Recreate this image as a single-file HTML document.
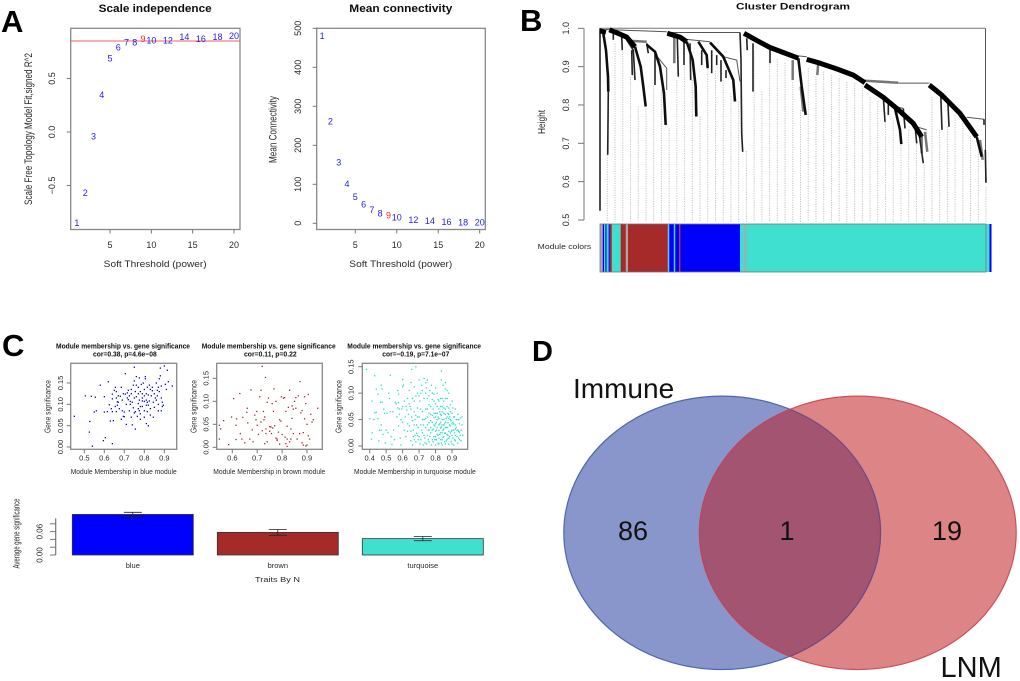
<!DOCTYPE html>
<html lang="en">
<head>
<meta charset="utf-8">
<title>WGCNA module analysis and Venn diagram</title>
<style>
html,body{margin:0;padding:0;background:#fff;width:1020px;height:681px;overflow:hidden}
svg{display:block;font-family:"Liberation Sans",Arial,sans-serif}
.t{fill:#2a2a2a}
.tb{fill:#111;font-weight:bold}
.letter{fill:#000;font-weight:bold}
</style>
</head>
<body>
<svg id="fig" xmlns="http://www.w3.org/2000/svg" width="1020" height="681" viewBox="0 0 1020 681">
<defs>
<filter id="soft" x="-5%" y="-5%" width="110%" height="110%"><feGaussianBlur stdDeviation="0.35"/></filter>
<clipPath id="blue-clip"><ellipse cx="722" cy="532.8" rx="158.7" ry="137.2"/></clipPath>
</defs>
<rect width="1020" height="681" fill="#fff"/>

<g id="panelA" filter="url(#soft)">
<text class="tb" x="98.7" y="12" font-size="11" textLength="113" lengthAdjust="spacingAndGlyphs">Scale independence</text>
<text class="tb" x="349.3" y="12" font-size="11" textLength="103" lengthAdjust="spacingAndGlyphs">Mean connectivity</text>
<text class="t" x="103.7" y="267" font-size="9.5" textLength="103" lengthAdjust="spacingAndGlyphs">Soft Threshold (power)</text>
<text class="t" x="349.3" y="267" font-size="9.5" textLength="103" lengthAdjust="spacingAndGlyphs">Soft Threshold (power)</text>
<text class="t" transform="translate(32,129) rotate(-90)" text-anchor="middle" font-size="11" textLength="152" lengthAdjust="spacingAndGlyphs">Scale Free Topology Model Fit,signed R^2</text>
<text class="t" transform="translate(276.5,129.5) rotate(-90)" text-anchor="middle" font-size="11" textLength="67" lengthAdjust="spacingAndGlyphs">Mean Connectivity</text>
</g>

<g id="panelB" filter="url(#soft)">
<text class="tb" x="736" y="9.5" font-size="9.5" textLength="114" lengthAdjust="spacingAndGlyphs">Cluster Dendrogram</text>
<text class="t" transform="translate(545,122) rotate(-90)" text-anchor="middle" font-size="10" textLength="24" lengthAdjust="spacingAndGlyphs">Height</text>
<text class="t" x="537.7" y="249" font-size="7.5" textLength="53.5" lengthAdjust="spacingAndGlyphs">Module colors</text>
</g>

<g id="panelC" filter="url(#soft)">
<text class="tb" x="56" y="348.5" font-size="7.4" textLength="134" lengthAdjust="spacingAndGlyphs">Module membership vs. gene significance</text>
<text class="tb" x="93" y="356.5" font-size="7.4" textLength="63.7" lengthAdjust="spacingAndGlyphs">cor=0.38, p=4.6e−08</text>
<text class="tb" x="201.7" y="348.5" font-size="7.4" textLength="134" lengthAdjust="spacingAndGlyphs">Module membership vs. gene significance</text>
<text class="tb" x="244" y="356.5" font-size="7.4" textLength="52.7" lengthAdjust="spacingAndGlyphs">cor=0.11, p=0.22</text>
<text class="tb" x="347.3" y="348.5" font-size="7.4" textLength="133.7" lengthAdjust="spacingAndGlyphs">Module membership vs. gene significance</text>
<text class="tb" x="382.3" y="356.5" font-size="7.4" textLength="67" lengthAdjust="spacingAndGlyphs">cor=−0.19, p=7.1e−07</text>
<text class="t" x="70.7" y="474" font-size="7.6" textLength="106" lengthAdjust="spacingAndGlyphs">Module Membership in blue module</text>
<text class="t" x="213.3" y="474" font-size="7.6" textLength="112" lengthAdjust="spacingAndGlyphs">Module Membership in brown module</text>
<text class="t" x="354" y="474" font-size="7.6" textLength="121.7" lengthAdjust="spacingAndGlyphs">Module Membership in turquoise module</text>
<text class="t" transform="translate(50.5,406.5) rotate(-90)" text-anchor="middle" font-size="8" textLength="53" lengthAdjust="spacingAndGlyphs">Gene significance</text>
<text class="t" transform="translate(196.5,406.5) rotate(-90)" text-anchor="middle" font-size="8" textLength="53" lengthAdjust="spacingAndGlyphs">Gene significance</text>
<text class="t" transform="translate(341.5,406.5) rotate(-90)" text-anchor="middle" font-size="8" textLength="53" lengthAdjust="spacingAndGlyphs">Gene significance</text>
<text class="t" transform="translate(19.5,533.5) rotate(-90)" text-anchor="middle" font-size="9" textLength="70" lengthAdjust="spacingAndGlyphs">Average gene significance</text>
<text class="t" x="255" y="582" font-size="7.5" textLength="45" lengthAdjust="spacingAndGlyphs">Traits By N</text>
</g>

<g id="panelD">
<ellipse cx="722" cy="532.8" rx="158.2" ry="136.7" fill="#8896cb" stroke="#4f67b1" stroke-width="1.2"/>
<ellipse cx="858" cy="532.8" rx="158.2" ry="136.7" fill="#dd8487" stroke="#cf4f58" stroke-width="1.2"/>
<ellipse cx="858" cy="532.8" rx="158.2" ry="136.7" fill="#a25470" clip-path="url(#blue-clip)"/>
<path d="M789.5 409 A158.2 136.7 0 0 1 789.5 656.6" fill="none" stroke="#6d4a85" stroke-width="1.2"/>
<path d="M790.5 409 A158.2 136.7 0 0 0 790.5 656.6" fill="none" stroke="#c14455" stroke-width="1.2"/>
<text x="573" y="398" font-size="28" fill="#111">Immune</text>
<text x="940.5" y="677" font-size="29" fill="#111">LNM</text>
<text x="633" y="540" font-size="27" fill="#111" text-anchor="middle">86</text>
<text x="787" y="540" font-size="27" fill="#111" text-anchor="middle">1</text>
<text x="947" y="540" font-size="27" fill="#111" text-anchor="middle">19</text>
</g>

<text class="letter" x="1" y="32" font-size="31">A</text>
<text class="letter" x="520" y="31" font-size="31">B</text>
<text class="letter" x="2" y="356" font-size="31">C</text>
<text class="letter" x="532" y="361" font-size="29">D</text>
</svg>

<script>
/* ---------- Panel A data ---------- */
const powers = [1,2,3,4,5,6,7,8,9,10,12,14,16,18,20];
const scaleFit = [-0.85,-0.567,-0.04,0.35,0.69,0.79,0.84,0.84,0.87,0.857,0.857,0.888,0.87,0.888,0.90];
const meanConnectivity = [481,262,157,101,68,49,35,26,20,16,9,7,4,3,2.5];
const selectedPower = 9;
const fitCutoff = 0.85;
const powerTicks = [5,10,15,20];
const scaleTicks = [0.5,0,-0.5];
const scaleTickLabels = ['0.5','0.0','−0.5'];
const connectivityTicks = [0,100,200,300,400,500];

/* ---------- Panel B data ---------- */
const heightTicks = [1.0,0.9,0.8,0.7,0.6,0.5];
const heightTickLabels = ['1.0','0.9','0.8','0.7','0.6','0.5'];
const guideHeights = [.67,.96,.94,.874,.796,.79,.85,.84,.74,.865,.90,.865,.77,.90,.89,.865,.83,.81,.68,.94,.835,.92,.92,.91,.86,.787,.896,.874,.887,.878,.87,.86,.857,.857,.82,.81,.756,.76,.695,.735,.70,.644,.82,.735,.743,.774,.752,.72,.71,.587];
const moduleNames = ['grey','blue','turquoise','blue','turquoise','blue','brown','turquoise','brown','grey','brown','turquoise','blue','turquoise','blue','brown','blue','turquoise','grey','turquoise','blue'];
const moduleSizes = [2.7,1.3,1.3,1.3,2,1.3,2,8.7,5.3,2,40,1.3,4.7,1.3,4,1.3,59.7,4.3,2,243,2];
const moduleColors = {grey:'#a9a9a9',blue:'#0000ff',turquoise:'#40e0d0',brown:'#a52a2a'};
/* dendrogram merges as [leaf, height], grouped by how many genes each branch gathers */
const trunkBranches = [
[[0,.993],[6,.99]],
[[9.3,.996],[18,.987],[26.7,.977],[35,.952]],
[[67.3,.987],[80,.977],[86.7,.965]],
[[144,.987],[157,.968],[170,.95],[183.3,.937],[198.3,.922]],
[[206.7,.919],[220,.909],[236.7,.894],[253.3,.878],[265,.858]],
[[265,.852],[283.3,.82],[296.7,.791],[313.3,.752],[321.7,.717]],
[[329.3,.852],[341.7,.826],[360,.778],[376.7,.717]]
];
const limbBranches = [
[[3.3,.987],[6,.943],[8,.874],[8.3,.835]],
[[35,.952],[40.7,.9],[43.3,.848],[45.7,.796]],
[[46.7,.957],[55,.939],[60,.9],[64,.83],[65.7,.748]],
[[86.7,.965],[92.7,.917],[95.7,.848],[96.3,.77]],
[[98.3,.965],[106.7,.93],[107.7,.896]],
[[110,.963],[123.3,.926],[133.3,.865],[135,.809]],
[[198.3,.922],[201.7,.848],[205.7,.774]],
[[295,.791],[300,.735],[301.3,.698]],
[[376.7,.717],[381.7,.665]]
];
const twigBranches = [
[[0,1],[0,.524]],[[8.3,.835],[7.7,.67]],[[26.7,.97],[33.3,.943],[35,.865]],[[21.7,.978],[22.3,.943]],[[31.7,.943],[32.3,.878]],[[13.3,.991],[13.3,.97]],
[[46.7,.961],[48.3,.935]],[[55,.935],[55,.852]],[[77.3,.974],[78.3,.874]],[[84,.965],[84,.904]],[[90,.961],[90.7,.865]],
[[101.7,.943],[101.7,.904]],[[111.7,.943],[111.7,.883]],[[116.7,.93],[116.7,.904]],[[121,.917],[121,.861]],[[126,.891],[126,.87]],
[[140,.989],[141,.917],[141.7,.726],[142.7,.678]],[[146.7,.974],[147.3,.943]],[[153,.961],[153,.835]],[[170,.952],[170,.909]],
[[283.3,.822],[285,.756]],[[288.3,.813],[288.3,.774]],[[303.3,.791],[305,.739]],[[315,.748],[316.7,.70]],[[318.3,.739],[323.3,.648]],
[[340.7,.83],[342,.735]],[[347.7,.817],[349,.743]],[[384,.763],[384,.748]],[[385.3,.683],[386,.597]]
];
const greyBranches = [
[[74.3,.978],[74.3,.909]],[[192.7,.917],[192.7,.865]],[[200.7,.848],[203.3,.783]],[[218.3,.913],[217.3,.878]],[[265,.863],[298.3,.858]],
[[321.7,.726],[321.7,.674]],[[325,.73],[327.3,.678]],[[380,.709],[382.7,.657]],[[26.7,.968],[46.7,.965]]
];
const linkBranches = [
[[6,.997],[66.7,.991]],[[57.3,.926],[66.7,.896],[66.7,.839]],[[67.3,.989],[140,.989]],[[86.7,.971],[110,.965]],[[123.3,.926],[136.7,.917],[140,.861]],
[[198.3,.928],[206.7,.926]],[[298.3,.857],[329.3,.857]],[[296.7,.795],[303.3,.791]],[[316.7,.743],[326.7,.735]],[[366.7,.768],[384,.763]],[[385.5,1],[385.5,.6]]
];

/* ---------- Panel C data ---------- */
const bluePoints = [[.45,.072],[.505,.12],[.527,.06],[.525,.035],[.535,.119],[.54,.002],[.55,.082],[.555,.117],[.56,.085],[.58,.145],[.595,.015],[.6,.082],[.6,.118],[.605,.022],[.615,.083],[.62,.153],[.625,.099],[.63,.061],[.635,.09],[.64,.008],[.64,.083],[.64,.113],[.64,.124],[.645,.062],[.65,.133],[.655,.14],[.655,.095],[.66,.13],[.66,.083],[.665,.098],[.665,.106],[.67,.105],[.675,.09],[.68,.119],[.685,.14],[.685,.065],[.69,.085],[.695,.072],[.695,.125],[.7,.071],[.7,.082],[.705,.124],[.705,.172],[.71,.053],[.71,.1],[.715,.127],[.715,.115],[.72,.111],[.72,.133],[.725,.085],[.73,.1],[.73,.107],[.735,.135],[.735,.07],[.74,.052],[.745,.092],[.75,.08],[.75,.115],[.75,.155],[.75,.187],[.755,.042],[.755,.083],[.755,.13],[.76,.145],[.76,.165],[.765,.072],[.77,.102],[.77,.125],[.77,.14],[.775,.085],[.775,.162],[.78,.065],[.78,.078],[.78,.13],[.785,.147],[.79,.095],[.79,.108],[.79,.125],[.795,.15],[.8,.07],[.8,.085],[.8,.107],[.8,.135],[.805,.165],[.805,.16],[.81,.055],[.81,.098],[.81,.11],[.815,.14],[.815,.083],[.82,.05],[.82,.098],[.82,.122],[.825,.108],[.83,.075],[.83,.09],[.83,.135],[.835,.12],[.84,.14],[.84,.132],[.845,.105],[.845,.07],[.85,.093],[.855,.115],[.86,.11],[.865,.12],[.87,.1],[.87,.14],[.875,.13],[.875,.16],[.88,.185],[.88,.167],[.885,.085],[.885,.143],[.885,.115],[.89,.095],[.895,.098],[.9,.19],[.905,.147],[.91,.135],[.915,.18],[.92,.153],[.94,.143],[.86,.15],[.865,.133],[.85,.125],[.825,.145],[.815,.105],[.775,.11],[.76,.118],[.745,.145],[.735,.125],[.74,.105],[.725,.12],[.69,.11],[.67,.12],[.66,.115],[.8,.12],[.79,.115],[.78,.095],[.77,.09],[.81,.125],[.87,.085],[.89,.105]];
const brownPoints = [[.548,.048],[.553,.04],[.548,.018],[.565,.058],[.585,.006],[.597,.066],[.605,.106],[.615,.017],[.615,.048],[.617,.062],[.632,.03],[.63,.117],[.638,.018],[.642,.065],[.65,.01],[.658,.076],[.66,.085],[.662,.053],[.67,.018],[.675,.125],[.68,.038],[.683,.012],[.69,.07],[.695,.06],[.698,.078],[.7,.048],[.705,.028],[.71,.11],[.715,.124],[.715,.055],[.72,.176],[.72,.036],[.725,.078],[.727,.06],[.73,.066],[.73,.008],[.733,.152],[.735,.04],[.735,.03],[.74,.012],[.74,.098],[.745,.107],[.75,.035],[.755,.044],[.757,.03],[.76,.095],[.762,.042],[.765,.078],[.767,.127],[.77,.047],[.775,.1],[.78,.018],[.78,.015],[.785,.033],[.79,.06],[.79,.007],[.795,.057],[.797,.11],[.805,.107],[.81,.108],[.812,.022],[.815,.008],[.815,.078],[.82,.002],[.82,.046],[.825,.087],[.83,.124],[.83,.012],[.835,.018],[.835,.04],[.84,.09],[.84,.063],[.845,.083],[.85,.1],[.855,.108],[.86,.018],[.855,.085],[.865,.112],[.87,.03],[.875,.075],[.88,.08],[.88,.01],[.885,.032],[.89,.062],[.895,.095],[.895,.003],[.9,.05],[.872,.143],[.91,.018],[.885,.005],[.9,.005],[.915,.072],[.92,.055],[.925,.06],[.905,.115],[.89,.11],[.943,.085],[.905,.025],[.845,.03],[.82,.018],[.8,.028],[.775,.02],[.75,.045]];
const turquoisePoints = [[.38,.145],[.43,.133],[.525,.134],[.6,.126],[.655,.145],[.68,.15],[.835,.142],[.47,.115],[.475,.108],[.44,.108],[.45,.098],[.415,.085],[.44,.064],[.43,.063],[.45,.052],[.4,.052],[.425,.05],[.41,.013],[.415,.025],[.455,.01],[.46,.03],[.465,.083],[.47,.04],[.47,.03],[.475,.083],[.48,.022],[.485,.07],[.49,.062],[.495,.006],[.5,.03],[.505,.062],[.51,.025],[.515,.1],[.52,.09],[.525,.065],[.53,.018],[.535,.003],[.54,.065],[.545,.03],[.55,.012],[.555,.083],[.56,.08],[.565,.055],[.57,.072],[.575,.038],[.575,.082],[.58,.06],[.585,.015],[.59,.002],[.595,.07],[.6,.045],[.6,.075],[.605,.115],[.61,.085],[.61,.03],[.57,.105],[.575,.098],[.6,.112],[.58,.07],[.59,.05],[.615,.055],[.62,.018],[.625,.068],[.63,.028],[.635,.06],[.64,.105],[.64,.038],[.645,.075],[.65,.12],[.65,.01],[.655,.055],[.66,.002],[.66,.048],[.665,.03],[.67,.112],[.67,.065],[.675,.02],[.68,.058],[.68,.008],[.685,.04],[.69,.072],[.695,.035],[.7,.125],[.7,.055],[.7,.018],[.705,.085],[.71,.04],[.715,.115],[.72,.065],[.72,.025],[.725,.002],[.73,.128],[.73,.09],[.73,.05],[.735,.015],[.74,.07],[.74,.035],[.745,.11],[.745,.004],[.75,.09],[.75,.055],[.75,.02],[.755,.03],[.76,.078],[.76,.044],[.76,.008],[.765,.105],[.77,.06],[.77,.025],[.775,.115],[.775,.002],[.78,.088],[.78,.045],[.78,.012],[.785,.07],[.785,.032],[.79,.098],[.79,.054],[.79,.018],[.795,.038],[.8,.11],[.8,.08],[.8,.062],[.8,.028],[.8,.002],[.805,.045],[.805,.012],[.81,.075],[.81,.035],[.815,.088],[.815,.055],[.815,.02],[.82,.03],[.82,.005],[.825,.065],[.825,.042],[.83,.09],[.83,.025],[.83,.012],[.835,.125],[.835,.058],[.835,.036],[.84,.075],[.84,.05],[.84,.002],[.845,.115],[.845,.03],[.85,.085],[.85,.018],[.85,.062],[.855,.042],[.855,.008],[.86,.108],[.86,.07],[.86,.025],[.865,.052],[.865,.035],[.87,.09],[.87,.013],[.875,.062],[.875,.044],[.88,.072],[.88,.028],[.88,.003],[.885,.055],[.885,.018],[.89,.078],[.89,.038],[.895,.048],[.895,.008],[.9,.062],[.9,.03],[.905,.072],[.905,.015],[.91,.042],[.91,.002],[.915,.055],[.915,.025],[.92,.07],[.92,.01],[.925,.035],[.93,.05],[.93,.018],[.935,.06],[.935,.005],[.94,.028],[.945,.042],[.945,.012],[.95,.053],[.955,.03],[.96,.055],[.965,.02],[.62,.075],[.63,.09],[.64,.08],[.65,.07],[.66,.09],[.67,.085],[.68,.095],[.69,.1],[.7,.095],[.71,.1],[.72,.105],[.74,.1],[.76,.095],[.78,.1],[.82,.085],[.84,.09],[.86,.09],[.74,.12],[.75,.125],[.72,.05],[.71,.07],[.69,.055],[.67,.04],[.65,.028],[.63,.042],[.74,.052],[.76,.062],[.78,.058],[.8,.042],[.82,.052],[.84,.025],[.86,.045],[.88,.052],[.9,.02],[.92,.04],[.94,.05],[.83,.06],[.85,.05],[.87,.035],[.89,.025],[.91,.03],[.81,.05],[.79,.04],[.77,.035],[.75,.04],[.73,.02],[.71,.012],[.69,.02],[.67,.012],[.83,.045],[.85,.032],[.87,.055],[.89,.065],[.93,.03],[.95,.02],[.96,.04],[.82,.015],[.84,.012],[.86,.004],[.88,.015],[.9,.004],[.92,.02],[.94,.015],[.9,.085],[.88,.1],[.86,.12],[.87,.105],[.79,.085],[.81,.1],[.77,.075],[.75,.07],[.785,.008],[.795,.012],[.805,.03],[.815,.004],[.825,.022],[.835,.006],[.845,.016],[.855,.024],[.865,.01],[.875,.02],[.885,.04],[.895,.028],[.905,.045],[.915,.012],[.925,.05],[.935,.03],[.945,.026],[.955,.01],[.765,.018],[.755,.012],[.735,.006],[.725,.04],[.715,.03],[.705,.004],[.695,.012],[.685,.024],[.675,.05],[.665,.018],[.81,.062],[.82,.07],[.83,.075],[.84,.065],[.85,.072],[.86,.06],[.87,.075],[.88,.06],[.89,.05],[.9,.042],[.91,.055],[.92,.032],[.8,.055],[.79,.062],[.78,.03],[.77,.048],[.76,.03],[.87,.022],[.85,.04],[.83,.034],[.81,.022],[.86,.035],[.84,.04],[.82,.04],[.8,.018]];
const barCategories = ['blue','brown','turquoise'];
const barValues = [0.104,0.058,0.042];
const barErrors = [0.0055,0.0073,0.0055];
const barFills = ['#0000ff','#a52a2a','#40e0d0'];
const barTicks = [0,0.02,0.04,0.06,0.08];
const barTickLabels = ['0.00','0.06'];
const blueXTicks = [.5,.6,.7,.8,.9];
const brownXTicks = [.6,.7,.8,.9];
const turquoiseXTicks = [.4,.5,.6,.7,.8,.9];
const gsTicks = [0,.05,.10,.15];
const gsTickLabels = ['0.00','0.05','0.10','0.15'];

/* ---------- helpers ---------- */
const NS = 'http://www.w3.org/2000/svg';
function make(tag, parent, attrs, text){
  const e = document.createElementNS(NS, tag);
  for (const k in attrs) e.setAttribute(k, attrs[k]);
  if (text !== undefined) e.textContent = text;
  parent.appendChild(e);
  return e;
}
function linear(d0, r0, d1, r1){ return v => r0 + (v - d0) * (r1 - r0) / (d1 - d0); }
const panelA = document.getElementById('panelA');
const panelB = document.getElementById('panelB');
const panelC = document.getElementById('panelC');
const AXIS = '#777';

function drawBox(parent, x0, y0, x1, y1, name){
  const r = make('rect', parent, {x:x0, y:y0, width:x1-x0, height:y1-y0, fill:'none', stroke:'#888', 'stroke-width':1.3});
  
  
}
function xTicks(parent, ticks, sx, yBase, labelY, size, name, fmt){
  ticks.forEach(t => {
    const l = make('line', parent, {x1:sx(t), x2:sx(t), y1:yBase, y2:yBase+4, stroke:AXIS, 'stroke-width':1});
    
    
    const s = make('text', parent, {x:sx(t), y:labelY, 'font-size':size, 'text-anchor':'middle', class:'t'}, fmt(t));
    
    
  });
}
function yTicks(parent, ticks, labels, sy, xBase, labelX, size, name){
  ticks.forEach((t, i) => {
    const l = make('line', parent, {x1:xBase-4, x2:xBase, y1:sy(t), y2:sy(t), stroke:AXIS, 'stroke-width':1});
    
    
    const s = make('text', parent, {transform:'translate(' + labelX + ',' + sy(t) + ') rotate(-90)', 'font-size':size, 'text-anchor':'middle', class:'t'}, labels[i]);
    
    
  });
}
function powerLabels(parent, values, sx, sy, name){
  powers.forEach((p, i) => {
    const s = make('text', parent, {x:sx(p), y:sy(values[i])+3.2, 'font-size':9, 'text-anchor':'middle', fill: p === selectedPower ? '#f22' : '#2222ee'}, String(p));
    
    
  });
}

/* ---------- Panel A ---------- */
const sxA1 = linear(5, 110, 20, 234);
const syA1 = linear(0, 132, 0.5, 78.5);
drawBox(panelA, 70.7, 28.3, 240, 229.5, 'scale-plot-frame');
xTicks(panelA, powerTicks, sxA1, 229.5, 248, 9, 'scale-x', String);
yTicks(panelA, scaleTicks, scaleTickLabels, syA1, 70.7, 55, 9, 'scale-y');
const cutoffLine = make('line', panelA, {x1:70.7, x2:240, y1:syA1(fitCutoff), y2:syA1(fitCutoff), stroke:'#f06060', 'stroke-width':1});


powerLabels(panelA, scaleFit, sxA1, syA1, 'scale-fit');

const sxA2 = linear(5, 355.3, 20, 479.7);
const syA2 = linear(0, 223.3, 500, 28.3);
drawBox(panelA, 316.7, 28.3, 485.3, 229.5, 'connectivity-plot-frame');
xTicks(panelA, powerTicks, sxA2, 229.5, 248, 9, 'connectivity-x', String);
yTicks(panelA, connectivityTicks, connectivityTicks.map(String), syA2, 316.7, 301, 9, 'connectivity-y');
powerLabels(panelA, meanConnectivity, sxA2, syA2, 'connectivity');

/* ---------- Panel B ---------- */
const leafX = linear(0, 600, 385, 985);
const heightY = linear(1, 28.3, 0.5, 220);
const guideX = linear(0, 607.3, 49, 986);
guideHeights.forEach((h, i) => {
  const g = make('line', panelB, {x1:guideX(i), x2:guideX(i), y1:heightY(h), y2:222, stroke:'#c4c4c4', 'stroke-width':1, 'stroke-dasharray':'1.2 1.2'});
  
  
});
const topLine = make('line', panelB, {x1:leafX(0), x2:leafX(385), y1:heightY(1), y2:heightY(1), stroke:'#777', 'stroke-width':1});


function drawBranches(list, width, tone, name){
  list.forEach(pts => {
    const d = pts.map(p => leafX(p[0]).toFixed(1) + ',' + heightY(p[1]).toFixed(1)).join(' ');
    const b = make('polyline', panelB, {points:d, fill:'none', stroke:tone, 'stroke-width':width, 'stroke-linejoin':'round'});
    
    
  });
}
drawBranches(linkBranches, 1, '#555', 'dendrogram-link');
drawBranches(greyBranches, 2.5, '#777', 'dendrogram-grey-branch');
drawBranches(twigBranches, 1.6, '#222', 'dendrogram-twig');
drawBranches(limbBranches, 2.6, '#111', 'dendrogram-limb');
drawBranches(trunkBranches, 5, '#000', 'dendrogram-trunk');
const heightAxis = make('line', panelB, {x1:584, x2:584, y1:heightY(1), y2:heightY(0.5), stroke:AXIS, 'stroke-width':1});


heightTicks.forEach((t, i) => {
  const l = make('line', panelB, {x1:578, x2:584, y1:heightY(t), y2:heightY(t), stroke:AXIS, 'stroke-width':1});
  
  
  const s = make('text', panelB, {transform:'translate(569,' + heightY(t) + ') rotate(-90)', 'font-size':9, 'text-anchor':'middle', class:'t'}, heightTickLabels[i]);
  
  
});
let moduleStart = 0;
moduleNames.forEach((m, i) => {
  const r = make('rect', panelB, {x:leafX(moduleStart), y:224, width:moduleSizes[i], height:48, fill:moduleColors[m]});
  
  
  moduleStart += moduleSizes[i];
});
const barFrame = make('rect', panelB, {x:600, y:224, width:386, height:48, fill:'none', stroke:'#777', 'stroke-width':0.8});



/* ---------- Panel C scatter ---------- */
function scatter(points, color, sx, sy, box, ticks, labelX, name){
  drawBox(panelC, box[0], box[1], box[2], box[3], name + '-scatter-frame');
  xTicks(panelC, ticks, sx, box[3], 460.7, 7.5, name + '-x', v => v.toFixed(1));
  yTicks(panelC, gsTicks, gsTickLabels, sy, box[0], labelX, 7.5, name + '-y');
  points.forEach(p => {
    const c = make('rect', panelC, {x:sx(p[0])-0.6, y:sy(p[1])-0.6, width:1.3, height:1.3, fill:color});
    
    
  });
}
scatter(bluePoints, '#0000ff', linear(.5, 84.3, .9, 164.3), linear(0, 447, .15, 383), [70.7,363.3,176.7,449.3], blueXTicks, 63, 'blue');
scatter(brownPoints, '#a52a2a', linear(.6, 232.3, .9, 307), linear(0, 447.3, .15, 378.3), [216.7,363.3,322.3,449.3], brownXTicks, 208.7, 'brown');
scatter(turquoisePoints, '#28dcc8', linear(.4, 369.7, .9, 452), linear(0, 446, .15, 366.7), [362.3,363.3,467.7,449.3], turquoiseXTicks, 353.7, 'turquoise');

/* ---------- Panel C bars ---------- */
const barY = linear(0, 555, 0.06, 531.6);
const barX = linear(0, 72.3, 1, 217.3);
const barWidth = 121;
const barAxis = make('line', panelC, {x1:55.7, x2:55.7, y1:barY(0), y2:518.3, stroke:AXIS, 'stroke-width':1.2});


barTicks.forEach(t => {
  const l = make('line', panelC, {x1:50, x2:55.7, y1:barY(t), y2:barY(t), stroke:AXIS, 'stroke-width':1});
  
  
});
[0, 0.06].forEach((t, i) => {
  const s = make('text', panelC, {transform:'translate(42.7,' + barY(t) + ') rotate(-90)', 'font-size':8, 'text-anchor':'middle', class:'t'}, barTickLabels[i]);
  
  
});
barCategories.forEach((c, i) => {
  const x = barX(i);
  const r = make('rect', panelC, {x:x, y:barY(barValues[i]), width:barWidth, height:barY(0)-barY(barValues[i]), fill:barFills[i], stroke:'#333', 'stroke-width':0.8});
  
  
  const cx = x + barWidth/2;
  const hi = barY(barValues[i] + barErrors[i]);
  const lo = barY(barValues[i] - barErrors[i]);
  const eb = make('path', panelC, {d:'M'+(cx-9)+' '+hi+'H'+(cx+9)+'M'+cx+' '+hi+'V'+lo+'M'+(cx-9)+' '+lo+'H'+(cx+9), fill:'none', stroke:'#222', 'stroke-width':0.8});
  
  
  const s = make('text', panelC, {x:cx, y:568, 'font-size':7.5, 'text-anchor':'middle', class:'t'}, c);
  
  
});
</script>
</body>
</html>
